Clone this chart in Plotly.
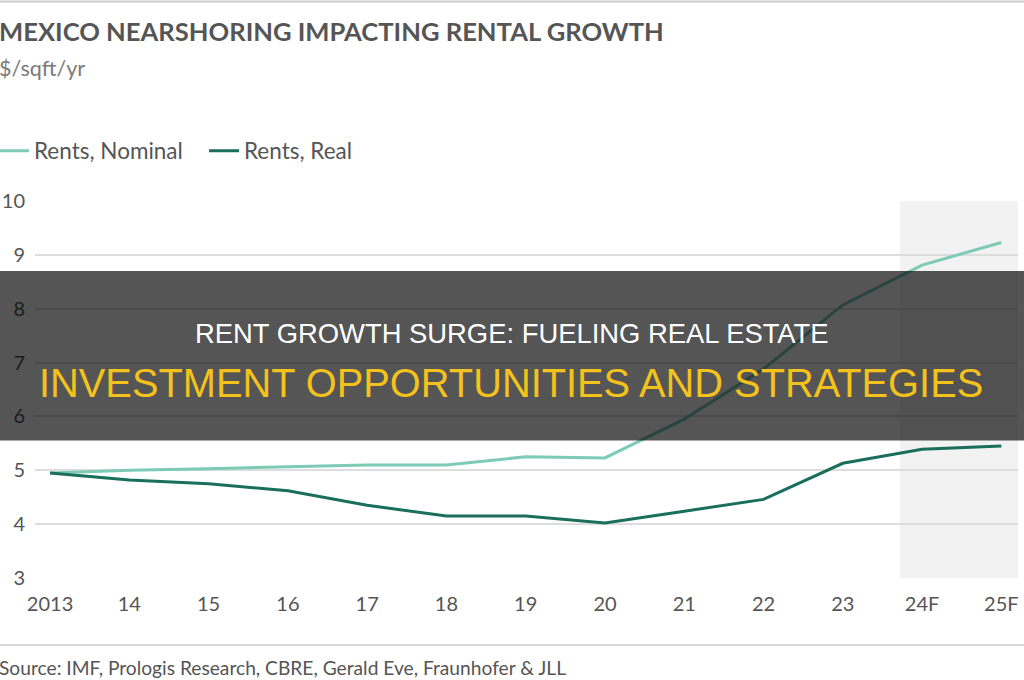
import plotly.graph_objects as go

years = ["2013", "14", "15", "16", "17", "18", "19", "20", "21", "22", "23", "24F", "25F"]
rents_nominal = [4.95, 5.0, 5.03, 5.06, 5.1, 5.1, 5.25, 5.23, 5.95, 6.88, 8.07, 8.81, 9.23]
rents_real = [4.95, 4.82, 4.75, 4.62, 4.35, 4.15, 4.15, 4.02, 4.24, 4.46, 5.13, 5.39, 5.45]
y_ticks = [3, 4, 5, 6, 7, 8, 9, 10]

W, H = 1024, 680
ML, MR, MT, MB = 35, 6, 201, 102
PW = W - ML - MR
PH = H - MT - MB

def px_x(p):
    return (p - ML) / PW

def px_y(p):
    return (H - MB - p) / PH

FONT = "Lato"
TXT = "#555555"

fig = go.Figure()
fig.add_trace(go.Scatter(x=years, y=rents_nominal, name="Rents, Nominal", mode="lines",
                         line=dict(color="#7dcab6", width=3)))
fig.add_trace(go.Scatter(x=years, y=rents_real, name="Rents, Real", mode="lines",
                         line=dict(color="#1a6e5c", width=3)))

shapes = [
    # forecast shading
    dict(type="rect", xref="x", yref="paper", x0=10.72, x1=12.21, y0=0, y1=1,
         fillcolor="#f2f2f2", line=dict(width=0), layer="below"),
    # top border line
    dict(type="line", xref="paper", yref="paper", x0=px_x(0), x1=px_x(W), y0=px_y(1.5), y1=px_y(1.5),
         line=dict(color="#cccccc", width=2)),
    # bottom separator
    dict(type="line", xref="paper", yref="paper", x0=px_x(0), x1=px_x(W), y0=px_y(645), y1=px_y(645),
         line=dict(color="#cccccc", width=1.5)),
    # banner overlay
    dict(type="rect", xref="paper", yref="paper", x0=px_x(0), x1=px_x(W), y0=px_y(440.5), y1=px_y(271),
         fillcolor="rgba(0,0,0,0.665)", line=dict(width=0), layer="above"),
]

annotations = [
    dict(text="<b>MEXICO NEARSHORING IMPACTING RENTAL GROWTH</b>", xref="paper", yref="paper",
         x=px_x(-3), y=px_y(31), xanchor="left", yanchor="middle", showarrow=False,
         font=dict(family=FONT, size=25.6, color=TXT)),
    dict(text="$/sqft/yr", xref="paper", yref="paper",
         x=px_x(-3), y=px_y(68), xanchor="left", yanchor="middle", showarrow=False,
         font=dict(family=FONT, size=21.5, color="#7a7a7a")),
    dict(text="Source: IMF, Prologis Research, CBRE, Gerald Eve, Fraunhofer &amp; JLL", xref="paper", yref="paper",
         x=px_x(-3), y=px_y(667), xanchor="left", yanchor="middle", showarrow=False,
         font=dict(family=FONT, size=19.2, color=TXT)),
    dict(text="RENT GROWTH SURGE: FUELING REAL ESTATE", xref="paper", yref="paper",
         x=px_x(511.5), y=px_y(333), xanchor="center", yanchor="middle", showarrow=False,
         font=dict(family="Liberation Sans", size=27.4, color="#ffffff")),
    dict(text="INVESTMENT OPPORTUNITIES AND STRATEGIES", xref="paper", yref="paper",
         x=px_x(511), y=px_y(383), xanchor="center", yanchor="middle", showarrow=False,
         font=dict(family="Liberation Sans", size=39.8, color="#f4c21c")),
]

fig.update_layout(
    width=W, height=H,
    margin=dict(l=ML, r=MR, t=MT, b=MB, autoexpand=False),
    paper_bgcolor="white", plot_bgcolor="white",
    font=dict(family=FONT, color=TXT, size=20),
    showlegend=True,
    legend=dict(orientation="h", x=px_x(-6), y=px_y(151), xanchor="left", yanchor="middle",
                font=dict(family=FONT, size=22.5, color=TXT), bgcolor="rgba(0,0,0,0)",
                itemwidth=30, tracegroupgap=0, entrywidthmode="pixels", entrywidth=165),
    shapes=shapes,
    annotations=annotations,
    xaxis=dict(type="category", range=[-0.19, 12.21], showgrid=False, zeroline=False,
               showline=False, ticks="", tickfont=dict(size=20, color=TXT), fixedrange=True,
               automargin=False, ticklabelstandoff=12),
    yaxis=dict(range=[3, 10], tickvals=y_ticks, showgrid=True, gridcolor="#dddddd", gridwidth=2,
               zeroline=False, showline=False, ticks="", tickfont=dict(size=20, color=TXT),
               ticklabelstandoff=9, automargin=False),
)

fig.write_html("out.html", config=dict(displayModeBar=False))
